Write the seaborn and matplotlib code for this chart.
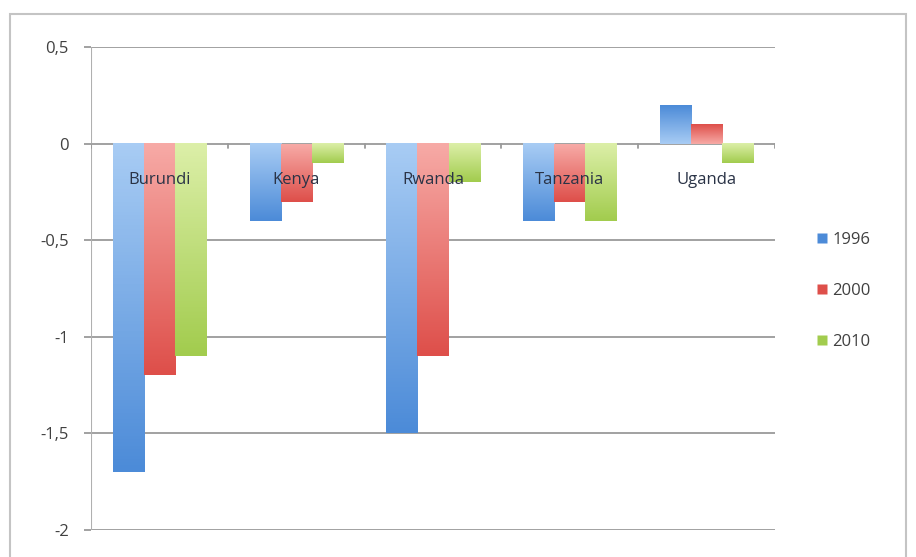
import numpy as np
import pandas as pd
import seaborn as sns
import matplotlib.pyplot as plt
from matplotlib.colors import LinearSegmentedColormap
from matplotlib.patches import Rectangle

# values
countries = ['Burundi', 'Kenya', 'Rwanda', 'Tanzania', 'Uganda']
years = ['1996', '2000', '2010']
v1996 = [-1.7, -0.4, -1.5, -0.4, 0.2]
v2000 = [-1.2, -0.3, -1.1, -0.3, 0.1]
v2010 = [-1.1, -0.1, -0.2, -0.4, -0.1]
yticks = [0.5, 0, -0.5, -1, -1.5, -2]
ytick_labels = ['0,5', '0', '-0,5', '-1', '-1,5', '-2']

# light (near zero) -> dark (bar end)
light = {'1996': '#a8ccf4', '2000': '#f7aaa6', '2010': '#dcefa8'}
dark = {'1996': '#4c8bd8', '2000': '#de4f4a', '2010': '#a2cc4e'}

df = pd.DataFrame({
    'Country': countries * 3,
    'Year': [y for y in years for _ in countries],
    'Value': v1996 + v2000 + v2010,
})

sns.set_style('white')
plt.rcParams['font.family'] = ['Open Sans', 'DejaVu Sans']

fig = plt.figure(figsize=(9.16, 5.57), dpi=100)
# outer chart frame
fig.patches.append(Rectangle((10 / 916, -0.02), 896 / 916, 1 - 14 / 557 + 0.02,
                             transform=fig.transFigure, fill=False,
                             edgecolor='#c4c4c4', linewidth=1.5))
ax = fig.add_axes([91 / 916, 1 - 530 / 557, 684 / 916, 483 / 557])

sns.barplot(data=df, x='Country', y='Value', hue='Year', order=countries,
            hue_order=years, palette=[dark[y] for y in years], width=0.68,
            saturation=1, ax=ax, legend=True)

# gradient fill inside each bar
grad = np.linspace(0, 1, 100).reshape(-1, 1)
for container, yr in zip(ax.containers, years):
    cmap = LinearSegmentedColormap.from_list(yr, [light[yr], dark[yr]])
    for bar in container:
        x0, w, h = bar.get_x(), bar.get_width(), bar.get_height()
        bar.set_facecolor('none')
        bar.set_edgecolor('none')
        if h < 0:
            ax.imshow(grad, cmap=cmap, extent=(x0, x0 + w, h, 0),
                      origin='upper', aspect='auto', zorder=2)
        else:
            ax.imshow(grad[::-1], cmap=cmap, extent=(x0, x0 + w, 0, h),
                      origin='upper', aspect='auto', zorder=2)
ax.set_xlim(-0.5, 4.5)
ax.set_ylim(-2, 0.5)

# grid and axes styling
ax.set_yticks(yticks)
ax.set_yticklabels(ytick_labels, fontsize=12, color='#404040')
for y in yticks:
    ax.axhline(y, color='#9a9a9a', linewidth=1.3, zorder=1)
ax.axvline(-0.5, color='#b0b0b0', linewidth=1.5, zorder=1)
for xb in np.arange(-0.5, 5, 1):
    ax.plot([xb, xb], [0, -0.025], color='#9a9a9a', linewidth=1.3, zorder=1)
for s in ax.spines.values():
    s.set_visible(False)
ax.tick_params(axis='y', left=True, length=5, width=1.3, color='#9a9a9a', pad=11)
ax.set_xticks([])
ax.set_xlabel('')
ax.set_ylabel('')

# category labels just below the zero line
for i, c in enumerate(countries):
    ax.text(i, -0.19, c, ha='center', va='center', fontsize=12,
            color='#2a3346', zorder=4)

# legend with square markers
handles = [plt.Line2D([], [], marker='s', linestyle='none', markersize=7,
                      markerfacecolor=dark[y], markeredgecolor='none') for y in years]
ax.legend(handles, years, loc='center left', bbox_to_anchor=(1.04, 0.495),
          frameon=False, fontsize=12, handlelength=0.6, handletextpad=0.3,
          labelspacing=2.1, labelcolor='#404040')

fig.savefig('out.png', dpi=100)
